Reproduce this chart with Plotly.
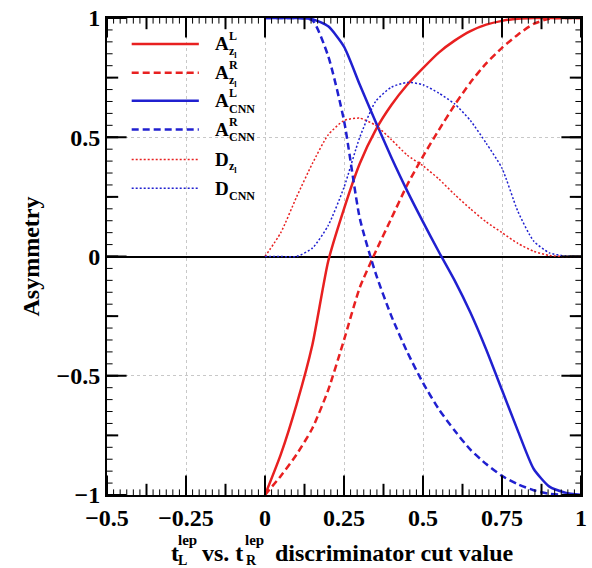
import plotly.graph_objects as go

# ---------------- data ----------------
cut = [0.0, 0.05, 0.10, 0.15, 0.20, 0.25, 0.30, 0.35, 0.40, 0.45, 0.50,
       0.55, 0.60, 0.65, 0.70, 0.75, 0.80, 0.85, 0.90, 0.95, 1.0]

A_z_L = [-1.0, -0.83, -0.62, -0.37, -0.02, 0.20, 0.39, 0.53, 0.635, 0.72, 0.79,
         0.855, 0.905, 0.945, 0.972, 0.988, 0.997, 1.0, 1.0, 1.0, 1.0]
A_z_R = [-1.0, -0.92, -0.83, -0.72, -0.56, -0.35, -0.13, 0.02, 0.16, 0.30, 0.42,
         0.53, 0.635, 0.73, 0.81, 0.875, 0.93, 0.975, 0.997, 1.0, 1.0]
A_cnn_L = [1.0, 1.0, 1.0, 0.995, 0.965, 0.88, 0.72, 0.565, 0.415, 0.275, 0.145,
           0.02, -0.10, -0.235, -0.39, -0.56, -0.73, -0.89, -0.965, -0.99, -1.0]
A_cnn_R = [1.0, 1.0, 1.0, 0.99, 0.84, 0.57, 0.16, -0.07, -0.25, -0.40, -0.53,
           -0.64, -0.73, -0.81, -0.87, -0.92, -0.955, -0.98, -0.995, -1.0, -1.0]
D_z = [0.0, 0.10, 0.25, 0.39, 0.51, 0.57, 0.58, 0.55, 0.49, 0.425, 0.38,
       0.325, 0.26, 0.20, 0.145, 0.10, 0.055, 0.022, 0.004, 0.0, 0.0]
D_cnn = [0.0, 0.0, 0.0, 0.035, 0.13, 0.29, 0.50, 0.65, 0.71, 0.73, 0.72,
         0.685, 0.64, 0.57, 0.475, 0.37, 0.19, 0.065, 0.015, 0.002, 0.0]

X_RANGE = [-0.5, 1.0]
Y_RANGE = [-1.0, 1.0]
x_major_step = 0.25
x_mid_step = 0.125
x_minor_step = 0.25 / 12
y_major_step = 0.5
y_mid_step = 0.25
y_minor_step = 0.05

RED = "#e82020"
BLUE = "#2020d0"
FONT = "Liberation Serif"

series = [
    (A_z_L, RED, "solid", 2.5),
    (A_z_R, RED, "7px,4px", 2.5),
    (A_cnn_L, BLUE, "solid", 2.5),
    (A_cnn_R, BLUE, "7px,4px", 2.5),
    (D_z, RED, "2px,2px", 1.5),
    (D_cnn, BLUE, "2px,2px", 1.5),
]
legend_main = ["A", "A", "A", "A", "D", "D"]
legend_sup = ["L", "R", "L", "R", "", ""]
legend_sub = ["z<sub>l</sub>", "z<sub>l</sub>", "CNN", "CNN", "z<sub>l</sub>", "CNN"]

# ---------------- figure ----------------
W, H = 592, 568
ML, MR, MT, MB = 107, 5, 16, 73
PW, PH = W - ML - MR, H - MT - MB


def px(xp):
    return (xp - ML) / PW


def py(yp):
    return (H - MB - yp) / PH


def bold(size):
    return dict(family=FONT, size=size, color="black", weight="bold")


def steps(lo, hi, step):
    n = int(round((hi - lo) / step))
    return [round(lo + i * step, 6) for i in range(n + 1)]


fig = go.Figure()
for ys, col, dash, w in series:
    fig.add_trace(go.Scatter(x=cut, y=ys, mode="lines",
                             line=dict(color=col, dash=dash, width=w, shape="spline", smoothing=0.6),
                             showlegend=False, hoverinfo="skip"))

# tick marks on all four sides (clipped to the plot area, so only the inner half shows)
tick_sets = [
    (x_minor_step, y_minor_step, 8, 1),
    (x_mid_step, y_mid_step, 16, 2),
    (x_major_step, y_major_step, 28, 2),
]
for xs_step, ys_step, size, lw in tick_sets:
    xt = steps(X_RANGE[0], X_RANGE[1], xs_step)
    yt = steps(Y_RANGE[0], Y_RANGE[1], ys_step)
    fig.add_trace(go.Scatter(x=xt + xt, y=[Y_RANGE[0]] * len(xt) + [Y_RANGE[1]] * len(xt),
                             mode="markers", cliponaxis=True, showlegend=False, hoverinfo="skip",
                             marker=dict(symbol="line-ns", size=size, color="black",
                                         line=dict(color="black", width=lw))))
    fig.add_trace(go.Scatter(x=[X_RANGE[0]] * len(yt) + [X_RANGE[1]] * len(yt), y=yt + yt,
                             mode="markers", cliponaxis=True, showlegend=False, hoverinfo="skip",
                             marker=dict(symbol="line-ew", size=size, color="black",
                                         line=dict(color="black", width=lw))))

# manual legend
leg_y = [42, 71, 99, 128, 158, 187]
for i, (ys, col, dash, w) in enumerate(series):
    yy = py(leg_y[i])
    fig.add_shape(type="line", xref="paper", yref="paper", x0=px(132), x1=px(200), y0=yy, y1=yy,
                  line=dict(color=col, dash=dash, width=w))
    fig.add_annotation(xref="paper", yref="paper", x=px(214), y=yy, text=legend_main[i],
                       xanchor="left", yanchor="middle", showarrow=False, font=bold(19))
    if legend_sup[i]:
        fig.add_annotation(xref="paper", yref="paper", x=px(229), y=py(leg_y[i] - 8), text=legend_sup[i],
                           xanchor="left", yanchor="middle", showarrow=False, font=bold(12))
    fig.add_annotation(xref="paper", yref="paper", x=px(229), y=py(leg_y[i] + 8), text=legend_sub[i],
                       xanchor="left", yanchor="middle", showarrow=False, font=bold(12))

# x-axis title with stacked sup/sub
title_parts = [
    (170, 553, "t", 24),
    (177, 540, "lep", 15),
    (177, 561, "L", 14),
    (201, 553, "vs. t", 24),
    (245, 540, "lep", 15),
    (246, 561, "R", 14),
    (275, 553, "discriminator cut value", 24),
]
for xp_, yp_, txt, sz in title_parts:
    fig.add_annotation(xref="paper", yref="paper", x=px(xp_), y=py(yp_), text=txt,
                       xanchor="left", yanchor="middle", showarrow=False, font=bold(sz))

fig.update_layout(
    width=W, height=H, margin=dict(l=ML, r=MR, t=MT, b=MB),
    paper_bgcolor="white", plot_bgcolor="white",
    font=dict(family=FONT, size=24, color="black"),
    xaxis=dict(range=X_RANGE, dtick=x_major_step, ticks="", tickfont=bold(24),
               showline=True, linecolor="black", linewidth=2, mirror=True,
               showgrid=True, gridcolor="#c8c8c8", griddash="dot", gridwidth=1,
               zeroline=False),
    yaxis=dict(range=Y_RANGE, dtick=y_major_step, ticks="", tickfont=bold(24),
               showline=True, linecolor="black", linewidth=2, mirror=True,
               showgrid=True, gridcolor="#c8c8c8", griddash="dot", gridwidth=1,
               zeroline=True, zerolinecolor="black", zerolinewidth=2,
               title=dict(text="Asymmetry", standoff=10, font=bold(24))),
)

fig.write_html("out.html")
